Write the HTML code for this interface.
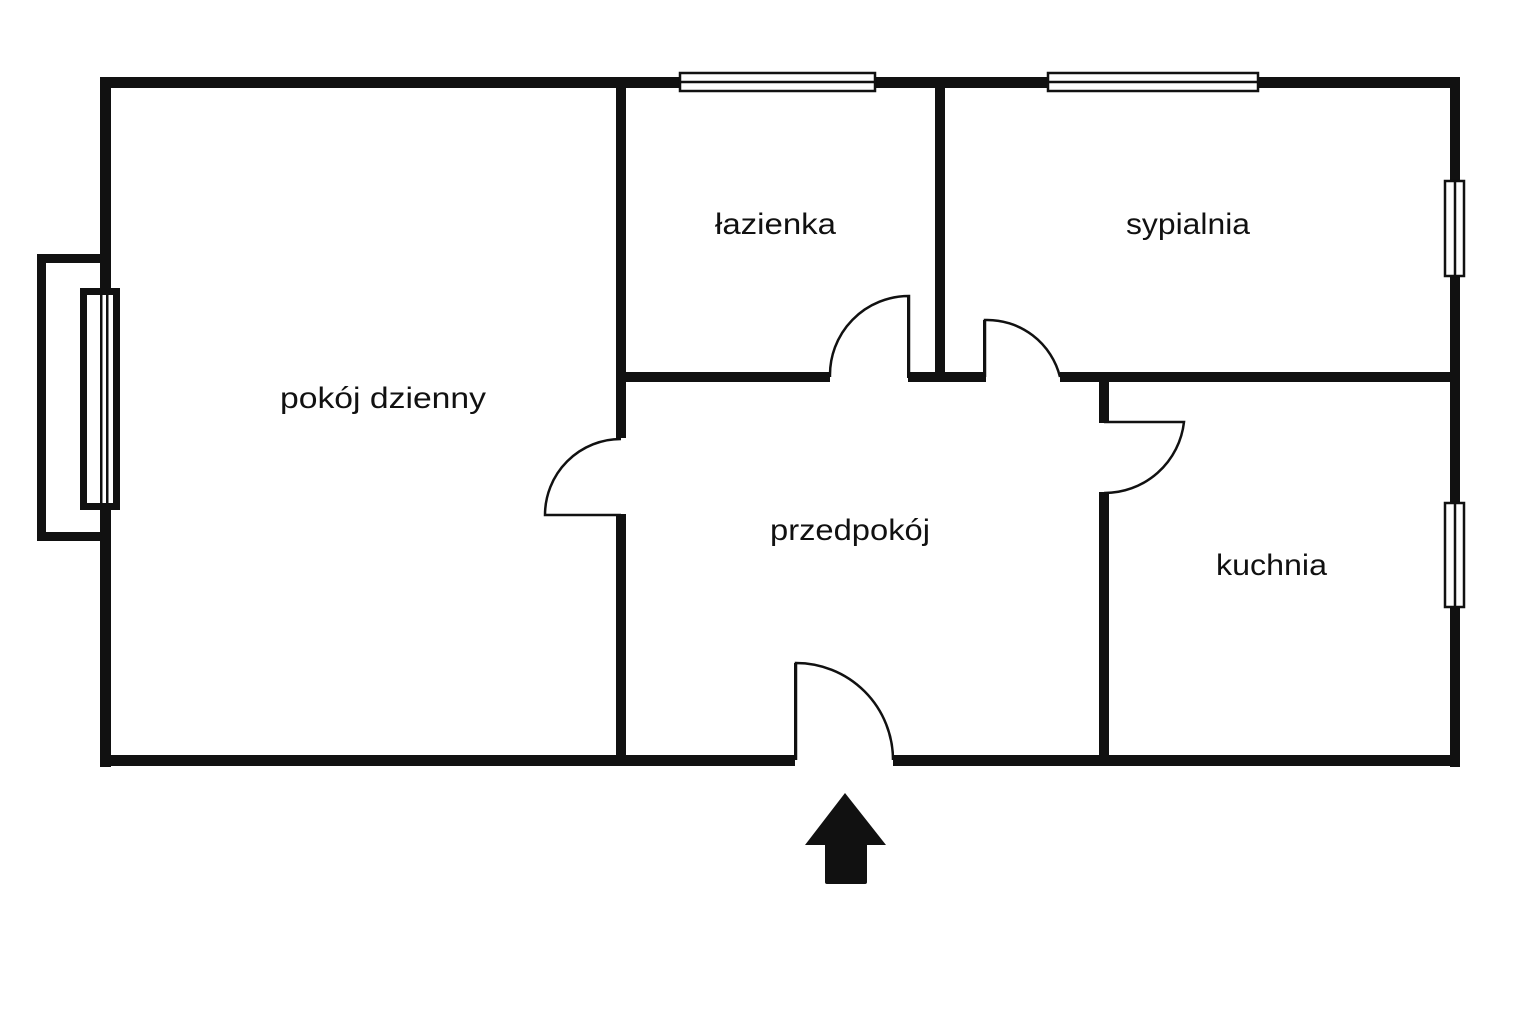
<!DOCTYPE html>
<html><head><meta charset="utf-8"><style>
html,body{margin:0;padding:0;background:#fff;}
svg{display:block}
text{font-family:"Liberation Sans",sans-serif;font-size:30px;fill:#111}
</style></head><body>
<svg width="1536" height="1024" viewBox="0 0 1536 1024">
<g fill="#111">
<rect x="100" y="77" width="1360" height="11"/>
<rect x="100" y="77" width="11" height="690"/>
<rect x="1450" y="77" width="10" height="690"/>
<rect x="100" y="755" width="695" height="11"/>
<rect x="893" y="755" width="567" height="11"/>
<rect x="616" y="77" width="10" height="361"/>
<rect x="616" y="514" width="10" height="250"/>
<rect x="935" y="77" width="10" height="305"/>
<rect x="621" y="372" width="209" height="10"/>
<rect x="908" y="372" width="78" height="10"/>
<rect x="1060" y="372" width="400" height="10"/>
<rect x="1099" y="377" width="10" height="46"/>
<rect x="1099" y="492" width="10" height="270"/>
<rect x="37" y="254" width="66" height="9"/>
<rect x="37" y="532" width="66" height="9"/>
<rect x="37" y="254" width="9" height="287"/>
<rect x="825" y="838" width="42" height="46" rx="2"/>
<polygon points="805,845 886,845 845,793"/>
</g>
<g fill="#fff" stroke="#111" stroke-width="2.5">
<rect x="680" y="73" width="195" height="18"/><line x1="680" y1="82" x2="875" y2="82"/>
<rect x="1048" y="73" width="210" height="18"/><line x1="1048" y1="82" x2="1258" y2="82"/>
<rect x="1445" y="181" width="19" height="95"/><line x1="1455" y1="181" x2="1455" y2="276"/>
<rect x="1445" y="503" width="19" height="104"/><line x1="1455" y1="503" x2="1455" y2="607"/>
</g>
<rect x="80" y="288" width="40" height="222" fill="#111"/>
<rect x="87" y="295" width="26" height="208" fill="#fff"/>
<rect x="100" y="295" width="2.5" height="208" fill="#111"/>
<rect x="106" y="295" width="2.5" height="208" fill="#111"/>
<g fill="none" stroke="#111" stroke-width="2.5">
<path d="M621,515 L545,515 A76,76 0 0 1 621,439"/>
<path d="M909,377 L909,296 A79,79 0 0 0 830,377"/>
<path d="M985,377 L985,320 A75,75 0 0 1 1060,377"/>
<path d="M1104,422 L1184,422 A80,80 0 0 1 1104,493"/>
<path d="M796,760 L796,663 A97,97 0 0 1 893,760"/>
</g>
<g fill="#111" stroke="none">
<rect x="907" y="296" width="3" height="82"/>
<rect x="983" y="320" width="3" height="58"/>
<rect x="794" y="663" width="3" height="97"/>
</g>
<text x="280" y="408" textLength="206" lengthAdjust="spacingAndGlyphs">pokój dzienny</text>
<text x="715" y="234" textLength="121" lengthAdjust="spacingAndGlyphs">łazienka</text>
<text x="1126" y="234" textLength="124" lengthAdjust="spacingAndGlyphs">sypialnia</text>
<text x="770" y="540" textLength="160" lengthAdjust="spacingAndGlyphs">przedpokój</text>
<text x="1216" y="575" textLength="111" lengthAdjust="spacingAndGlyphs">kuchnia</text>
</svg>
</body></html>
